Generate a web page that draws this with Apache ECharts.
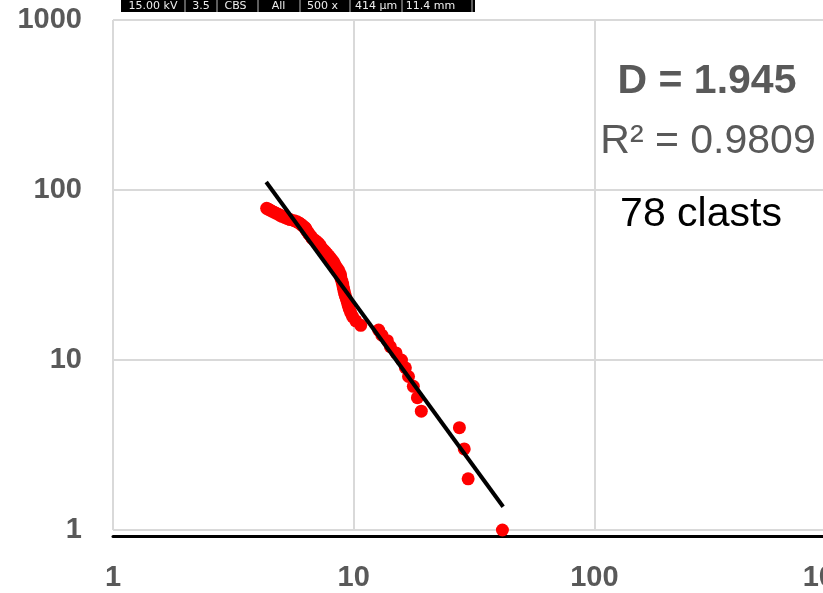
<!DOCTYPE html>
<html><head><meta charset="utf-8">
<script src="https://cdn.jsdelivr.net/npm/echarts@6/dist/echarts.min.js"></script>
<style>html,body{margin:0;padding:0;background:#fff}#c{width:823px;height:593px}</style>
</head><body><div id="c"></div>
<script>
// clast size (x) for cumulative count N = 1..78 (y)
const clastSize = [41.5, 29.9, 28.8, 27.5, 19.1, 18.4, 17.7, 16.9, 16.4, 15.8,
  15.0, 14.2, 13.8, 13.1, 12.7, 10.7, 10.2, 9.90, 9.72, 9.58,
  9.49, 9.40, 9.31, 9.22, 9.15, 9.09, 9.04, 9.00, 8.94, 8.87,
  8.83, 8.79, 8.71, 8.62, 8.50, 8.38, 8.30, 8.22, 8.10, 7.99,
  7.87, 7.76, 7.65, 7.54, 7.40, 7.33, 7.26, 7.19, 7.09, 6.98,
  6.85, 6.72, 6.66, 6.60, 6.53, 6.47, 6.41, 6.36, 6.33, 6.28,
  6.20, 6.11, 6.02, 5.93, 5.82, 5.66, 5.44, 5.29, 5.17, 5.04,
  4.95, 4.86, 4.76, 4.67, 4.58, 4.50, 4.43, 4.35];
const cumulativeCount = [1,2,3,4,5,6,7,8,9,10,11,12,13,14,15,16,17,18,19,20,
  21,22,23,24,25,26,27,28,29,30,31,32,33,34,35,36,37,38,39,40,
  41,42,43,44,45,46,47,48,49,50,51,52,53,54,55,56,57,58,59,60,
  61,62,63,64,65,66,67,68,69,70,71,72,73,74,75,76,77,78];
const fitLineX = [4.33, 41.8];
const fitLineY = [111.4, 1.37];
const annotD = 'D = 1.945';
const annotR2 = 'R\u00B2 = 0.9809';
const annotCount = '78 clasts';
const semInfo = ['15.00 kV', '3.5', 'CBS', 'All', '500 x', '414 \u00B5m', '11.4 mm'];

const chart = echarts.init(document.getElementById('c'), null, {renderer: 'canvas'});
const FONT = '"Liberation Sans", Arial, sans-serif';
const gridLine = {show: true, lineStyle: {color: '#d9d9d9', width: 2}};
const lbl = {fontSize: 29, fontWeight: 'bold', color: '#595959', fontFamily: FONT,
  formatter: v => String(Math.round(v))};

const semCenters = [153, 201, 235.5, 278.5, 322.5, 376, 430.5];
const semSeps = [185, 217, 258, 300, 350, 402, 472];
const graphics = [
  {type: 'rect', shape: {x: 121, y: 0, width: 354, height: 12}, style: {fill: '#000'}, z: 100}
];
semInfo.forEach((t, i) => graphics.push({type: 'text', x: semCenters[i], y: 6.5, z: 101,
  style: {text: t, fill: '#eeeeee', font: '11px "DejaVu Sans", sans-serif', align: 'center', verticalAlign: 'middle'}}));
semSeps.forEach(sx => graphics.push({type: 'line', z: 101, shape: {x1: sx, y1: 0, x2: sx, y2: 12},
  style: {stroke: '#bbbbbb', lineWidth: 1}}));
graphics.push(
  {type: 'text', x: 707, y: 82, z: 50, style: {text: annotD, fill: '#595959', font: 'bold 41px ' + FONT, align: 'center', verticalAlign: 'middle'}},
  {type: 'text', x: 708, y: 142, z: 50, style: {text: annotR2, fill: '#595959', font: '41px ' + FONT, align: 'center', verticalAlign: 'middle'}},
  {type: 'text', x: 701, y: 215, z: 50, style: {text: annotCount, fill: '#000', font: '41px ' + FONT, align: 'center', verticalAlign: 'middle'}}
);

chart.setOption({
  animation: false,
  backgroundColor: '#fff',
  grid: {left: 113, top: 20, width: 722, height: 510, containLabel: false, outerBoundsMode: 'none'},
  xAxis: {
    type: 'log', logBase: 10, min: 1, max: 1000, offset: 6,
    axisLine: {show: true, onZero: false, lineStyle: {color: '#000', width: 3}},
    axisTick: {show: false},
    axisLabel: Object.assign({margin: 27, hideOverlap: false}, lbl),
    splitLine: gridLine, minorSplitLine: {show: false}
  },
  yAxis: {
    type: 'log', logBase: 10, min: 1, max: 1000,
    axisLine: {show: false}, axisTick: {show: false},
    axisLabel: Object.assign({margin: 31}, lbl),
    splitLine: gridLine
  },
  series: [
    {type: 'scatter', symbol: 'circle', symbolSize: 13, clip: false,
     itemStyle: {color: '#ff0000', opacity: 1},
     data: clastSize.map((s, i) => [s, cumulativeCount[i]]), z: 2},
    {type: 'line', symbol: 'none', clip: false,
     lineStyle: {color: '#000', width: 4},
     data: fitLineX.map((x, i) => [x, fitLineY[i]]), z: 3}
  ],
  graphic: graphics
});
</script></body></html>
